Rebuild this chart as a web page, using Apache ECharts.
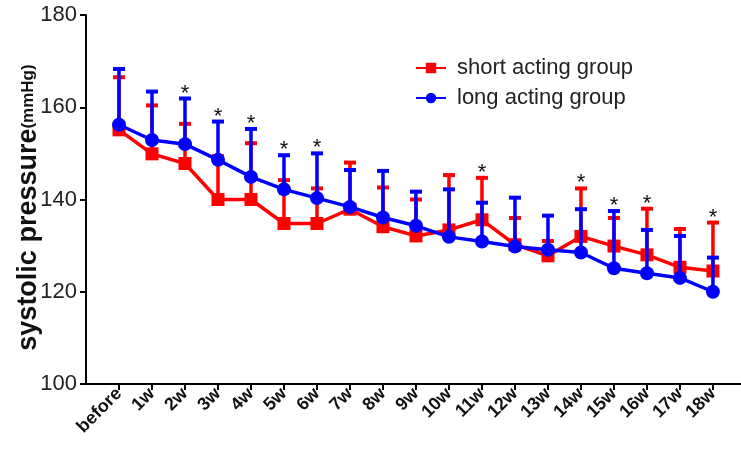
<!DOCTYPE html>
<html><head><meta charset="utf-8">
<script src="https://cdn.jsdelivr.net/npm/echarts@6/dist/echarts.min.js"></script>
<style>html,body{margin:0;padding:0;background:#fff}#c{width:741px;height:456px}</style>
</head><body><div id="c"></div>
<script>
const categories = ['before','1w','2w','3w','4w','5w','6w','7w','8w','9w','10w','11w','12w','13w','14w','15w','16w','17w','18w'];
const shortMean  = [155.1,149.9,147.8,140.0,140.0,134.8,134.8,137.9,134.1,132.1,133.4,135.6,130.2,127.8,132.0,129.9,128.0,125.3,124.5];
const shortUpper = [166.5,160.4,156.4,149.4,152.2,144.2,142.4,148.0,142.6,140.0,145.3,144.7,136.0,131.0,142.4,136.0,138.0,133.6,135.0];
const longMean   = [156.2,152.9,152.0,148.6,144.9,142.2,140.3,138.4,136.1,134.3,131.9,130.9,129.8,129.1,128.5,125.1,124.0,123.0,120.0];
const longUpper  = [168.3,163.4,161.9,156.9,155.3,149.6,150.0,146.4,146.2,141.7,142.2,139.3,140.4,136.5,137.9,137.5,133.4,132.1,127.4];
const starIdx    = [2,3,4,5,6,11,14,15,16,18];
const yTicks     = [100,120,140,160,180];

const RED = '#ff0000', BLUE = '#0000ff';
const FONT = 'Liberation Sans, Arial, sans-serif';
const idx = categories.map((_, i) => i);

function errData(mean, up) { return mean.map((m, i) => [i, m, up[i]]); }
function errRender(color) {
  return function (params, api) {
    const x = api.value(0);
    const p0 = api.coord([x, api.value(1)]);
    const p1 = api.coord([x, api.value(2)]);
    const hw = 6;
    return { type: 'group', children: [
      { type: 'line', shape: { x1: p0[0], y1: p0[1], x2: p1[0], y2: p1[1] }, style: { stroke: color, lineWidth: 3.5 } },
      { type: 'line', shape: { x1: p1[0] - hw, y1: p1[1], x2: p1[0] + hw, y2: p1[1] }, style: { stroke: color, lineWidth: 4 } }
    ]};
  };
}

const chart = echarts.init(document.getElementById('c'), null, { renderer: 'canvas' });
chart.setOption({
  animation: false,
  backgroundColor: '#fff',
  textStyle: { fontFamily: FONT },
  grid: { left: 86, right: 0, top: 15, bottom: 72, containLabel: false, outerBoundsMode: 'none' },
  legend: {
    left: 410, top: 52, orient: 'vertical', itemWidth: 30, itemHeight: 13, itemGap: 8,
    textStyle: { fontSize: 22, color: '#222', fontFamily: FONT, padding: [0, 0, 0, 6] },
    data: ['short acting group', 'long acting group']
  },
  xAxis: {
    type: 'value', min: -1, max: 18.85, interval: 1,
    splitLine: { show: false },
    axisLine: { onZero: false, lineStyle: { color: '#000', width: 2 } },
    axisTick: { length: 6, lineStyle: { color: '#000', width: 2 }, customValues: idx },
    axisLabel: { customValues: idx, rotate: 45, fontSize: 18, fontWeight: 'bold', color: '#111', margin: 7,
      formatter: v => categories[Math.round(v)] || '' }
  },
  yAxis: {
    type: 'value', min: 100, max: 180, interval: 20,
    splitLine: { show: false },
    axisLine: { show: true, onZero: false, lineStyle: { color: '#000', width: 2 } },
    axisTick: { show: true, length: 6, lineStyle: { color: '#000', width: 2 } },
    axisLabel: { fontSize: 22, color: '#222', margin: 9, formatter: v => yTicks.includes(v) ? String(v) : '' },
    name: '{a|systolic pressure}{b|(mmHg)}',
    nameLocation: 'middle', nameGap: 44, nameMoveOverlap: false,
    nameTextStyle: { padding: [0, 16, 0, 0], rich: {
      a: { fontSize: 27, fontWeight: 'bold', color: '#111', fontFamily: FONT },
      b: { fontSize: 17, fontWeight: 'bold', color: '#111', fontFamily: FONT }
    } }
  },
  series: [
    { type: 'custom', name: 'sErr', data: errData(shortMean, shortUpper), renderItem: errRender(RED), z: 1, silent: true },
    { type: 'line', name: 'short acting group', data: shortMean.map((v, i) => [i, v]), color: RED,
      symbol: 'rect', symbolSize: 13, lineStyle: { width: 3.5, color: RED }, itemStyle: { color: RED }, z: 2 },
    { type: 'custom', name: 'lErr', data: errData(longMean, longUpper), renderItem: errRender(BLUE), z: 3, silent: true },
    { type: 'line', name: 'long acting group', data: longMean.map((v, i) => [i, v]), color: BLUE,
      symbol: 'circle', symbolSize: 14, lineStyle: { width: 3.5, color: BLUE }, itemStyle: { color: BLUE }, z: 4 },
    { type: 'custom', name: 'stars', z: 5, silent: true,
      data: starIdx.map(i => [i, Math.max(shortUpper[i], longUpper[i])]),
      renderItem: function (params, api) {
        const p = api.coord([api.value(0), api.value(1)]);
        return { type: 'text', x: p[0], y: p[1] - 16,
          style: { text: '*', fill: '#111', fontSize: 22, fontFamily: FONT, align: 'center', verticalAlign: 'top' } };
      } }
  ]
});
</script></body></html>
